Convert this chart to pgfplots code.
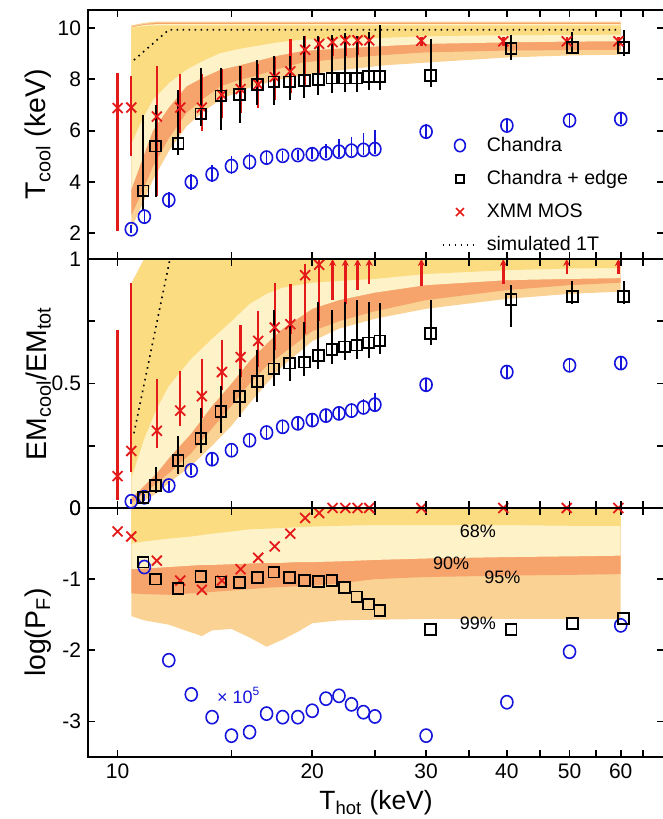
\documentclass[border=0pt]{standalone}
\usepackage{fontspec}
\setmainfont{Liberation Sans}
\usepackage{pgfplots}
\pgfplotsset{compat=1.18}
\usepackage{pgfplotstable}
\usetikzlibrary{arrows.meta}

\definecolor{bgold}{RGB}{251,220,128}
\definecolor{bcream}{RGB}{254,242,200}
\definecolor{bsalmon}{RGB}{246,164,108}
\definecolor{blight}{RGB}{250,210,148}
\definecolor{cblue}{RGB}{20,20,220}
\definecolor{cred}{RGB}{228,25,25}

% ---------- data: top panel ----------
\pgfplotstableread{
T y ep em
10.5 2.16 0.15 0.15
11 2.65 0.25 0.25
12 3.3 0.3 0.3
13 4.0 0.3 0.3
14 4.3 0.35 0.3
15 4.62 0.4 0.3
16 4.78 0.35 0.3
17 4.95 0.25 0.25
18 5.02 0.2 0.2
19 5.05 0.2 0.2
20 5.08 0.25 0.2
21 5.12 0.35 0.2
22 5.18 0.5 0.2
23 5.22 0.55 0.2
24 5.25 0.65 0.2
25 5.28 0.75 0.2
30 5.96 0.3 0.3
40 6.2 0.25 0.2
50 6.4 0.25 0.2
60 6.45 0.25 0.2
}\chtop

\pgfplotstableread{
T y ep em
10.95 3.65 2.95 0.75
11.45 5.4 1.6 1.97
12.4 5.5 2.1 0.45
13.45 6.65 1.79 0.45
14.45 7.35 1.09 1.32
15.45 7.4 1.1 1.1
16.45 7.8 0.95 0.8
17.45 7.9 1.0 0.9
18.45 7.9 1.0 0.7
19.45 7.95 1.72 0.68
20.45 8.0 1.67 0.6
21.45 8.05 1.69 0.6
22.45 8.05 1.75 0.55
23.45 8.05 1.62 0.55
24.45 8.1 1.74 0.5
25.45 8.1 2.03 0.5
30.5 8.15 1.42 0.43
40.6 9.2 0.54 0.44
50.5 9.25 0.58 0.23
60.6 9.25 0.66 0.36
}\edtop

\pgfplotstableread{
T y ep em
10 6.88 1.36 4.78
10.5 6.9 1.24 1.9
11.5 6.55 1.95 3.1
12.5 6.9 1.3 1.0
13.5 6.9 1.3 0.9
14.5 7.4 1.0 0.9
15.5 7.62 0.88 0.92
16.5 7.8 0.8 0.9
17.5 8.09 0.76 0.89
18.5 8.31 1.26 0.85
19.5 9.15 0.52 1.45
20.5 9.38 0.25 1.15
21.5 9.45 0.17 0.55
22.5 9.52 0.18 0.6
23.5 9.52 0.18 0.57
24.5 9.52 0.18 0.42
29.5 9.5 0.15 0.2
39.5 9.48 0.16 0.18
49.5 9.48 0.16 0.18
59.5 9.48 0.16 0.18
}\xmtop

% ---------- data: middle panel ----------
\pgfplotstableread{
T y ep em
10.5 0.027 0.01 0.01
11 0.043 0.015 0.015
12 0.09 0.02 0.02
13 0.151 0.02 0.02
14 0.196 0.025 0.025
15 0.232 0.025 0.025
16 0.272 0.025 0.025
17 0.303 0.025 0.025
18 0.326 0.025 0.025
19 0.34 0.025 0.025
20 0.353 0.025 0.025
21 0.371 0.025 0.025
22 0.38 0.025 0.025
23 0.391 0.03 0.025
24 0.404 0.035 0.025
25 0.415 0.045 0.025
30 0.495 0.025 0.025
40 0.546 0.025 0.025
50 0.573 0.025 0.025
60 0.582 0.025 0.025
}\chmid

\pgfplotstableread{
T y ep em
10.95 0.043 0.03 0.025
11.45 0.09 0.075 0.03
12.4 0.19 0.098 0.053
13.45 0.28 0.123 0.06
14.45 0.388 0.103 0.085
15.45 0.447 0.112 0.083
16.45 0.509 0.124 0.084
17.45 0.559 0.236 0.071
18.45 0.582 0.158 0.07
19.45 0.586 0.162 0.054
20.45 0.613 0.216 0.054
21.45 0.636 0.159 0.057
22.45 0.647 0.182 0.054
23.45 0.654 0.181 0.054
24.45 0.663 0.166 0.059
25.45 0.671 0.154 0.051
30.5 0.701 0.134 0.048
40.6 0.838 0.058 0.11
50.5 0.849 0.061 0.029
60.6 0.849 0.061 0.029
}\edmid

\pgfplotstableread{
T y ep em
10 0.128 0.586 0.094
10.5 0.229 0.673 0.085
11.5 0.31 0.208 0.07
12.5 0.391 0.161 0.061
13.5 0.449 0.151 0.089
14.5 0.546 0.128 0.074
15.5 0.606 0.129 0.08
16.5 0.671 0.119 0.105
17.5 0.725 0.177 0.092
18.5 0.738 0.162 0.038
19.5 0.935 0.045 0.235
20.5 0.977 0.023 0.227
}\xmmid

% ---------- data: bottom panel ----------
\pgfplotstableread{
T y
11 -0.83
12 -2.14
13 -2.62
14 -2.94
15 -3.2
16 -3.15
17 -2.89
18 -2.94
19 -2.94
20 -2.85
21 -2.68
22 -2.64
23 -2.76
24 -2.87
25 -2.93
30 -3.2
40 -2.73
50 -2.02
60 -1.65
}\chbot

\pgfplotstableread{
T y
10.95 -0.76
11.45 -1.0
12.4 -1.13
13.45 -0.96
14.45 -1.04
15.45 -1.05
16.45 -0.98
17.45 -0.9
18.45 -0.98
19.45 -1.02
20.45 -1.03
21.45 -1.02
22.45 -1.12
23.45 -1.25
24.45 -1.35
25.45 -1.44
30.5 -1.71
40.6 -1.71
50.5 -1.62
60.6 -1.55
}\edbot

\pgfplotstableread{
T y
10 -0.33
10.5 -0.40
11.5 -0.74
12.5 -1.02
13.5 -1.15
14.5 -1.02
15.5 -0.86
16.5 -0.70
17.5 -0.54
18.5 -0.36
19.5 -0.14
20.5 -0.07
21.5 0
22.5 0
23.5 0
24.5 0
29.5 0
39.5 0
49.5 0
59.5 0
}\xmbot

\begin{document}
\begin{tikzpicture}
% ================= bottom panel =================
\begin{axis}[
  scale only axis, width=288pt, height=124.5pt,
  at={(0,0)}, anchor=south west,
  xmode=log, xmin=9, xmax=70,
  xtick={10,15,20,25,30,35,40,45,50,55,60,65},
  xticklabels={10,,20,,30,,40,,50,,60,},
  xminorticks=false, yminorticks=false,
  tick align=inside, major tick length=3.5pt,
  axis line style={line width=0.9pt},
  every tick/.style={black, line width=0.9pt},
  axis on top,
  ticklabel style={font=\fontsize{10.5}{12}\selectfont},
  label style={font=\fontsize{14.2}{16}\selectfont},
  ylabel style={at={(axis description cs:-0.086,0.5)}, anchor=center},
  ymin=-3.5, ymax=0,
  ytick={-3,-2,-1,0}, yticklabels={-3,-2,-1,0},
  ylabel={log(P\textsubscript{F})},
  xlabel={T\textsubscript{hot} (keV)},
  xlabel style={at={(axis description cs:0.5,-0.105)}, anchor=north, font=\fontsize{13.2}{15}\selectfont},
]
\addplot[fill=blight, draw=none, forget plot] coordinates {(10.5,-1.52) (11,-1.58) (12,-1.64) (13,-1.75) (13.5,-1.8) (14,-1.72) (15,-1.7) (16,-1.82) (17,-1.95) (18,-1.85) (19,-1.74) (20,-1.62) (22,-1.58) (25,-1.57) (30,-1.56) (40,-1.56) (50,-1.56) (60,-1.56) (60,0) (10.5,0)};
\addplot[fill=bsalmon, draw=none, forget plot] coordinates {(10.5,-1.2) (11,-1.21) (12,-1.22) (13,-1.2) (13.5,-1.19) (14,-1.18) (15,-1.16) (16,-1.14) (17,-1.12) (18,-1.11) (19,-1.1) (20,-1.09) (22,-1.06) (25,-1.0) (30,-0.97) (40,-0.95) (50,-0.94) (60,-0.93) (60,0) (10.5,0)};
\addplot[fill=bcream, draw=none, forget plot] coordinates {(10.5,-0.86) (11,-0.85) (12,-0.83) (13,-0.81) (13.5,-0.8) (14,-0.8) (15,-0.79) (16,-0.78) (17,-0.77) (18,-0.77) (19,-0.76) (20,-0.76) (22,-0.75) (25,-0.73) (30,-0.71) (40,-0.69) (50,-0.68) (60,-0.67) (60,0) (10.5,0)};
\addplot[fill=bgold, draw=none, forget plot] coordinates {(10.5,-0.5) (11,-0.47) (12,-0.43) (13,-0.4) (13.5,-0.38) (14,-0.36) (15,-0.33) (16,-0.3) (17,-0.29) (18,-0.28) (19,-0.27) (20,-0.26) (22,-0.25) (25,-0.24) (30,-0.24) (40,-0.24) (50,-0.25) (60,-0.25) (60,0) (10.5,0)};
\addplot[cblue, only marks, mark=o, mark size=3pt, line width=0.8pt, mark options={yscale=1.1}] table[x=T,y=y] {\chbot};
\addplot[cred, only marks, mark=x, mark size=3.5pt, line width=0.9pt] table[x=T,y=y] {\xmbot};
\addplot[black, only marks, mark=square, mark size=2.7pt, line width=0.9pt] table[x=T,y=y] {\edbot};
\node[font=\fontsize{9}{10}\selectfont, anchor=base west] at (axis cs:33,-0.41) {68\%};
\node[font=\fontsize{9}{10}\selectfont, anchor=base west] at (axis cs:30,-0.86) {90\%};
\node[font=\fontsize{9}{10}\selectfont, anchor=base west] at (axis cs:36,-1.06) {95\%};
\node[font=\fontsize{9}{10}\selectfont, anchor=base west] at (axis cs:33,-1.71) {99\%};
\node[text=cblue, font=\fontsize{9}{10}\selectfont, anchor=base west] at (axis cs:13.9,-2.75) {× 10\textsuperscript{5}};
\end{axis}

% ================= middle panel =================
\begin{axis}[
  scale only axis, width=288pt, height=124.5pt,
  at={(0,124.5pt)}, anchor=south west,
  xmode=log, xmin=9, xmax=70,
  xtick={10,15,20,25,30,35,40,45,50,55,60,65},
  xticklabels={},
  xminorticks=false, yminorticks=false,
  tick align=inside, major tick length=3.5pt,
  axis line style={line width=0.9pt},
  every tick/.style={black, line width=0.9pt},
  axis on top,
  ticklabel style={font=\fontsize{10.5}{12}\selectfont},
  label style={font=\fontsize{14.2}{16}\selectfont},
  ylabel style={at={(axis description cs:-0.086,0.5)}, anchor=center},
  ymin=0, ymax=1,
  ytick={0,0.25,0.5,0.75,1}, yticklabels={0,,0.5,,1},
  ylabel={EM\textsubscript{cool}/EM\textsubscript{tot}},
]
\addplot[fill=blight, draw=none, forget plot] coordinates {(10.5,0.0) (11,0.03) (11.5,0.06) (12,0.1) (13,0.17) (14,0.25) (15,0.33) (16,0.42) (17,0.5) (18,0.57) (20,0.67) (22,0.72) (25,0.76) (30,0.8) (40,0.84) (50,0.86) (60,0.869) (60,1) (11,1) (10.5,0.9)};
\addplot[fill=bsalmon, draw=none, forget plot] coordinates {(10.5,0.02) (11,0.06) (11.5,0.1) (12,0.14) (13,0.22) (14,0.32) (15,0.41) (16,0.5) (17,0.57) (18,0.62) (20,0.71) (22,0.75) (25,0.79) (30,0.835) (40,0.875) (50,0.895) (60,0.905) (60,1) (11,1) (10.5,0.9)};
\addplot[fill=bcream, draw=none, forget plot] coordinates {(10.5,0.04) (11,0.09) (11.5,0.14) (12,0.2) (13,0.3) (14,0.41) (15,0.5) (16,0.59) (17,0.66) (18,0.72) (20,0.8) (22,0.835) (25,0.865) (30,0.895) (40,0.915) (50,0.92) (60,0.923) (60,1) (11,1) (10.5,0.9)};
\addplot[fill=bgold, draw=none, forget plot] coordinates {(10.5,0.12) (11,0.28) (11.5,0.4) (12,0.49) (13,0.6) (14,0.68) (15,0.75) (16,0.82) (17,0.86) (18,0.885) (20,0.905) (22,0.912) (25,0.92) (30,0.94) (40,0.955) (50,0.962) (60,0.964) (60,1) (11,1) (10.5,0.9)};
\addplot[black, line width=0.8pt, dash pattern=on 0.8pt off 2.2pt] coordinates {(10.6,0.3) (12.05,1.0)};
\addplot[cblue, only marks, mark=o, mark size=3pt, line width=0.8pt, mark options={yscale=1.1},
  error bars/.cd, y dir=both, y explicit, error mark=none, error bar style={line width=0.8pt}]
  table[x=T,y=y,y error plus=ep,y error minus=em] {\chmid};
\addplot[cred, only marks, mark=x, mark size=3.5pt, line width=0.9pt,
  error bars/.cd, y dir=both, y explicit, error mark=none, error bar style={line width=1.2pt}]
  table[x=T,y=y,y error plus=ep,y error minus=em] {\xmmid};
\addplot[cred, line width=1.2pt, -{Stealth[length=3.5pt,width=3.5pt]}] coordinates {(21.5,0.835) (21.5,1)};
\addplot[cred, line width=1.2pt, -{Stealth[length=3.5pt,width=3.5pt]}] coordinates {(22.5,0.82) (22.5,1)};
\addplot[cred, line width=1.2pt, -{Stealth[length=3.5pt,width=3.5pt]}] coordinates {(23.5,0.876) (23.5,1)};
\addplot[cred, line width=1.2pt, -{Stealth[length=3.5pt,width=3.5pt]}] coordinates {(24.5,0.9) (24.5,1)};
\addplot[cred, line width=1.2pt, -{Stealth[length=3.5pt,width=3.5pt]}] coordinates {(29.5,0.89) (29.5,1)};
\addplot[cred, line width=1.2pt, -{Stealth[length=3.5pt,width=3.5pt]}] coordinates {(39.5,0.9) (39.5,1)};
\addplot[cred, line width=1.2pt, -{Stealth[length=3.5pt,width=3.5pt]}] coordinates {(49.5,0.94) (49.5,1)};
\addplot[cred, line width=1.2pt, -{Stealth[length=3.5pt,width=3.5pt]}] coordinates {(59.5,0.94) (59.5,1)};
\addplot[black, only marks, mark=square, mark size=2.7pt, line width=0.9pt,
  error bars/.cd, y dir=both, y explicit, error mark=none, error bar style={line width=1pt}]
  table[x=T,y=y,y error plus=ep,y error minus=em] {\edmid};
\end{axis}

% ================= top panel =================
\begin{axis}[
  scale only axis, width=288pt, height=124.5pt,
  at={(0,249pt)}, anchor=south west,
  xmode=log, xmin=9, xmax=70,
  xtick={10,15,20,25,30,35,40,45,50,55,60,65},
  xticklabels={},
  xminorticks=false, yminorticks=false,
  tick align=inside, major tick length=3.5pt,
  axis line style={line width=0.9pt},
  every tick/.style={black, line width=0.9pt},
  axis on top,
  ticklabel style={font=\fontsize{10.5}{12}\selectfont},
  label style={font=\fontsize{14.2}{16}\selectfont},
  ylabel style={at={(axis description cs:-0.086,0.5)}, anchor=center},
  ymin=1, ymax=10.7,
  ytick={2,4,6,8,10}, yticklabels={2,4,6,8,10},
  ylabel={T\textsubscript{cool} (keV)},
  legend style={draw=none, fill=none, at={(0.614,0.508)}, anchor=north west,
    font=\fontsize{9.8}{11}\selectfont, row sep=4.1pt, inner sep=0pt,
    /tikz/every odd column/.append style={column sep=2.5pt}},
  legend cell align=left,
]
\addplot[fill=blight, draw=none, forget plot] coordinates {(10.5,2.2) (11,3.3) (11.34,4.08) (12,5.2) (12.77,6.16) (13.5,6.7) (14.4,7.2) (15.3,7.5) (16.2,7.72) (17.7,7.98) (19.3,8.15) (22,8.35) (26,8.55) (30,8.65) (40,8.85) (50,8.93) (60,8.96) (60,10.25) (11.5,10.25) (11,10.2) (10.5,10.1)};
\addplot[fill=bsalmon, draw=none, forget plot] coordinates {(10.5,2.7) (11,3.8) (11.34,4.6) (12,5.7) (12.77,6.68) (13.5,7.2) (14.4,7.72) (15.3,7.95) (16.2,8.11) (17.7,8.4) (19.3,8.65) (22,8.8) (26,8.95) (30,9.05) (40,9.12) (50,9.14) (60,9.15) (60,10.2) (11.5,10.2) (11,10.15) (10.5,10.05)};
\addplot[fill=bcream, draw=none, forget plot] coordinates {(10.5,3.7) (11,5.1) (11.34,6.0) (12,6.9) (12.77,7.72) (13.5,8.05) (14.4,8.37) (15.3,8.52) (16.2,8.68) (17.7,8.92) (19.3,9.1) (22,9.2) (26,9.3) (30,9.38) (40,9.44) (50,9.47) (60,9.48) (60,10.15) (11.5,10.15) (11,10.12) (10.5,10.02)};
\addplot[fill=bgold, draw=none, forget plot] coordinates {(10.5,5.5) (11,6.6) (11.34,7.2) (12,7.85) (12.77,8.37) (13.5,8.7) (14.4,9.02) (15.3,9.17) (16.2,9.28) (17.7,9.44) (19.3,9.55) (22,9.58) (26,9.62) (30,9.68) (40,9.72) (50,9.73) (60,9.74) (60,10.1) (11.5,10.1) (11,10.08) (10.5,10.0)};
\addplot[black, line width=0.8pt, dash pattern=on 0.8pt off 2.2pt, forget plot] coordinates {(10.6,8.75) (12,9.93) (60,9.93)};
\addplot[cblue, only marks, mark=o, mark size=3pt, line width=0.8pt, mark options={yscale=1.1}, forget plot,
  error bars/.cd, y dir=both, y explicit, error mark=none, error bar style={line width=0.8pt}]
  table[x=T,y=y,y error plus=ep,y error minus=em] {\chtop};
\addplot[cred, only marks, mark=x, mark size=3.5pt, line width=0.9pt, forget plot,
  error bars/.cd, y dir=both, y explicit, error mark=none, error bar style={line width=1.2pt}]
  table[x=T,y=y,y error plus=ep,y error minus=em] {\xmtop};
\addplot[black, only marks, mark=square, mark size=2.7pt, line width=0.9pt, forget plot,
  error bars/.cd, y dir=both, y explicit, error mark=none, error bar style={line width=1pt}]
  table[x=T,y=y,y error plus=ep,y error minus=em] {\edtop};
\addlegendimage{cblue, only marks, mark=o, mark size=2.7pt, line width=0.8pt, mark options={yscale=1.15}}
\addlegendentry{Chandra}
\addlegendimage{black, only marks, mark=square, mark size=2.1pt, line width=0.9pt}
\addlegendentry{Chandra + edge}
\addlegendimage{cred, only marks, mark=x, mark size=2.8pt, line width=0.8pt}
\addlegendentry{XMM MOS}
\addlegendimage{black, line width=0.8pt, dash pattern=on 0.8pt off 2.2pt}
\addlegendentry{simulated 1T}
\end{axis}

\pgfresetboundingbox
\path[use as bounding box] (-44pt,-31pt) rectangle (287.4pt,378.5pt);
\end{tikzpicture}
\end{document}
